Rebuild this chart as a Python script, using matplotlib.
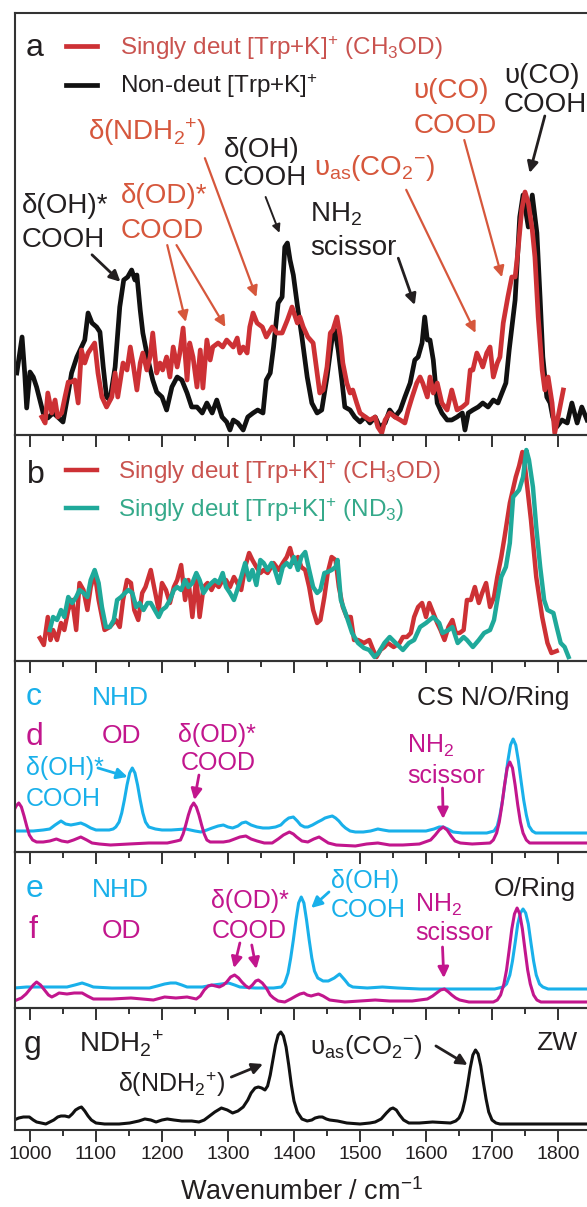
import matplotlib
matplotlib.use("Agg")
import matplotlib.pyplot as plt
from matplotlib.ticker import MultipleLocator

# ---------------- data (wavenumber / cm-1, intensity in arbitrary units) ----------------
# (a) experimental IRMPD spectra
a_black_wn = [980, 988, 992, 995, 1000, 1005, 1010, 1015, 1020, 1027,
              1035, 1042, 1050, 1058, 1063, 1071, 1078, 1083, 1088, 1094,
              1101, 1106, 1111, 1116, 1121, 1129, 1136, 1142, 1148, 1154,
              1159, 1162, 1167, 1171, 1179, 1186, 1192, 1200, 1207, 1215,
              1223, 1230, 1238, 1245, 1253, 1261, 1268, 1276, 1283, 1291,
              1298, 1303, 1308, 1315, 1323, 1330, 1338, 1345, 1353, 1358,
              1364, 1369, 1376, 1382, 1386, 1390, 1394, 1399, 1405, 1412,
              1420, 1427, 1435, 1442, 1450, 1458, 1462, 1467, 1473, 1477,
              1485, 1492, 1500, 1508, 1515, 1523, 1530, 1538, 1545, 1553,
              1561, 1568, 1576, 1583, 1588, 1594, 1598, 1602, 1606, 1611,
              1617, 1624, 1632, 1639, 1647, 1655, 1659, 1664, 1671, 1679,
              1686, 1694, 1702, 1709, 1715, 1721, 1726, 1735, 1742, 1747,
              1755, 1761, 1768, 1773, 1777, 1783, 1788, 1792, 1798, 1806,
              1814, 1821, 1829, 1836, 1844]
a_black = [0.62, 0.98, 0.62, 0.27, 0.63, 0.58, 0.48, 0.35, 0.22, 0.17,
           0.22, 0.18, 0.13, 0.42, 0.62, 0.78, 0.88, 0.95, 1.22, 1.12,
           1.08, 1.03, 0.68, 0.38, 0.35, 0.68, 1.28, 1.55, 1.58, 1.65,
           1.55, 1.60, 1.25, 1.02, 0.75, 0.55, 0.43, 0.38, 0.25, 0.48,
           0.58, 0.55, 0.42, 0.28, 0.28, 0.22, 0.32, 0.22, 0.35, 0.18,
           0.13, 0.05, 0.15, 0.12, 0.05, 0.18, 0.22, 0.25, 0.22, 0.55,
           0.62, 0.88, 1.32, 1.38, 1.88, 1.92, 1.75, 1.60, 1.30, 0.98,
           0.58, 0.32, 0.22, 0.25, 0.58, 0.98, 1.05, 0.85, 0.52, 0.28,
           0.25, 0.18, 0.13, 0.18, 0.12, 0.18, 0.08, 0.12, 0.25, 0.18,
           0.25, 0.38, 0.52, 0.75, 0.78, 0.92, 1.18, 0.95, 0.95, 0.75,
           0.32, 0.22, 0.15, 0.15, 0.18, 0.22, 0.05, 0.22, 0.25, 0.28,
           0.32, 0.28, 0.35, 0.32, 0.42, 0.52, 0.85, 1.35, 2.18, 2.40,
           2.08, 2.40, 2.02, 1.35, 0.78, 0.38, 0.32, 0.18, 0.08, 0.15,
           0.12, 0.32, 0.12, 0.28, 0.15]

a_red_wn = [1018, 1023, 1027, 1033, 1038, 1042, 1048, 1053, 1058, 1063,
            1068, 1073, 1078, 1083, 1088, 1094, 1098, 1103, 1109, 1116,
            1124, 1129, 1133, 1141, 1147, 1152, 1156, 1162, 1167, 1171,
            1177, 1182, 1186, 1192, 1197, 1201, 1207, 1212, 1217, 1223,
            1227, 1232, 1238, 1242, 1247, 1253, 1258, 1262, 1268, 1273,
            1277, 1285, 1292, 1298, 1308, 1314, 1318, 1323, 1329, 1333,
            1338, 1344, 1352, 1358, 1367, 1374, 1382, 1390, 1397, 1405,
            1409, 1414, 1421, 1429, 1435, 1439, 1444, 1450, 1455, 1459,
            1465, 1470, 1474, 1480, 1485, 1489, 1495, 1500, 1508, 1515,
            1523, 1527, 1533, 1538, 1545, 1553, 1561, 1568, 1573, 1579,
            1586, 1591, 1595, 1602, 1606, 1611, 1617, 1624, 1632, 1639,
            1647, 1655, 1662, 1667, 1671, 1677, 1682, 1686, 1692, 1697,
            1702, 1708, 1712, 1717, 1724, 1730, 1735, 1739, 1745, 1750,
            1755, 1761, 1765, 1770, 1776, 1780, 1785, 1791, 1795, 1800,
            1806, 1808]
a_red = [0.18, 0.12, 0.42, 0.22, 0.35, 0.18, 0.22, 0.38, 0.53, 0.53,
         0.55, 0.32, 0.85, 0.72, 0.82, 0.88, 0.92, 0.62, 0.38, 0.28,
         0.38, 0.62, 0.38, 0.72, 0.65, 0.88, 0.72, 0.45, 0.72, 0.82,
         0.65, 0.78, 1.02, 0.62, 0.72, 0.65, 0.78, 0.58, 0.88, 0.68,
         0.82, 1.07, 0.55, 0.92, 0.78, 0.48, 0.85, 0.47, 0.95, 0.75,
         0.88, 0.92, 0.88, 0.95, 0.88, 0.97, 0.82, 0.88, 0.82, 1.08,
         1.22, 1.12, 1.08, 0.98, 1.08, 1.02, 1.02, 1.15, 1.28, 1.12,
         1.18, 1.08, 0.98, 0.92, 0.62, 0.42, 0.45, 0.68, 1.02, 1.05,
         1.18, 0.98, 0.72, 0.52, 0.42, 0.45, 0.32, 0.22, 0.18, 0.15,
         0.18, 0.08, 0.02, 0.15, 0.22, 0.18, 0.15, 0.12, 0.25, 0.38,
         0.52, 0.58, 0.52, 0.38, 0.58, 0.42, 0.52, 0.32, 0.25, 0.45,
         0.25, 0.28, 0.32, 0.65, 0.65, 0.82, 0.75, 0.68, 0.82, 0.88,
         0.58, 0.72, 0.78, 1.12, 1.38, 1.58, 1.58, 1.82, 2.25, 2.43,
         2.32, 2.05, 1.78, 1.18, 0.65, 0.45, 0.58, 0.32, 0.02, 0.18,
         0.38, 0.45]

# (b) experimental spectra of the two singly deuterated species
b_red_wn = [1015, 1021, 1027, 1031, 1035, 1041, 1047, 1052, 1058, 1064,
            1070, 1075, 1081, 1087, 1092, 1098, 1104, 1113, 1121, 1130,
            1136, 1141, 1147, 1153, 1158, 1164, 1170, 1175, 1183, 1188,
            1195, 1200, 1206, 1212, 1218, 1223, 1229, 1235, 1240, 1246,
            1252, 1257, 1263, 1269, 1275, 1280, 1286, 1292, 1297, 1303,
            1309, 1314, 1320, 1326, 1332, 1337, 1343, 1349, 1354, 1360,
            1369, 1377, 1383, 1389, 1394, 1400, 1406, 1411, 1417, 1423,
            1429, 1435, 1440, 1446, 1451, 1457, 1463, 1468, 1474, 1480,
            1486, 1491, 1497, 1506, 1514, 1520, 1525, 1531, 1537, 1542,
            1551, 1560, 1565, 1571, 1577, 1582, 1588, 1594, 1600, 1605,
            1611, 1617, 1622, 1628, 1634, 1640, 1645, 1651, 1657, 1662,
            1668, 1674, 1680, 1685, 1691, 1697, 1703, 1708, 1714, 1719,
            1727, 1736, 1741, 1746, 1750, 1759, 1767, 1776, 1784, 1790,
            1798]
b_red = [0.23, 0.16, 0.44, 0.21, 0.31, 0.21, 0.38, 0.31, 0.51, 0.61,
         0.31, 0.78, 0.71, 0.51, 0.74, 0.88, 0.61, 0.31, 0.34, 0.41,
         0.34, 0.61, 0.81, 0.78, 0.51, 0.41, 0.68, 0.74, 0.91, 0.74,
         0.51, 0.78, 0.71, 0.58, 0.74, 0.81, 0.96, 0.61, 0.81, 0.44,
         0.84, 0.44, 0.74, 0.78, 0.71, 0.78, 0.74, 0.81, 0.81, 0.74,
         0.84, 0.78, 0.71, 0.94, 1.08, 1.01, 0.94, 0.88, 0.91, 0.88,
         0.98, 0.91, 0.98, 1.04, 1.13, 0.98, 1.04, 0.94, 0.91, 0.74,
         0.51, 0.38, 0.41, 0.64, 0.88, 1.04, 1.01, 0.74, 0.54, 0.44,
         0.44, 0.21, 0.21, 0.18, 0.21, 0.11, 0.04, 0.11, 0.14, 0.18,
         0.14, 0.18, 0.24, 0.24, 0.28, 0.44, 0.54, 0.58, 0.44, 0.58,
         0.48, 0.38, 0.31, 0.21, 0.34, 0.41, 0.28, 0.28, 0.31, 0.61,
         0.61, 0.74, 0.58, 0.68, 0.78, 0.54, 0.64, 0.84, 1.04, 1.24,
         1.58, 1.84, 1.95, 2.09, 1.94, 1.41, 0.84, 0.44, 0.18, 0.08,
         0.10]

b_teal_wn = [1030, 1035, 1041, 1047, 1052, 1058, 1064, 1070, 1075, 1081,
             1087, 1092, 1098, 1104, 1109, 1115, 1121, 1127, 1132, 1138,
             1144, 1149, 1155, 1161, 1166, 1172, 1178, 1183, 1189, 1195,
             1200, 1206, 1212, 1218, 1223, 1229, 1235, 1240, 1246, 1252,
             1257, 1263, 1269, 1275, 1280, 1286, 1292, 1297, 1303, 1309,
             1314, 1320, 1326, 1332, 1337, 1343, 1349, 1354, 1360, 1366,
             1371, 1377, 1383, 1389, 1394, 1400, 1406, 1411, 1417, 1423,
             1429, 1435, 1440, 1446, 1451, 1457, 1463, 1466, 1471, 1480,
             1488, 1497, 1506, 1514, 1522, 1528, 1537, 1545, 1554, 1565,
             1574, 1582, 1591, 1600, 1611, 1620, 1625, 1634, 1640, 1648,
             1657, 1662, 1671, 1680, 1688, 1697, 1703, 1708, 1714, 1721,
             1727, 1732, 1741, 1747, 1752, 1756, 1762, 1767, 1773, 1779,
             1784, 1793, 1798, 1804, 1810, 1816]
b_teal = [0.31, 0.44, 0.41, 0.51, 0.44, 0.64, 0.58, 0.64, 0.71, 0.68,
          0.64, 0.81, 0.91, 0.78, 0.54, 0.34, 0.34, 0.41, 0.61, 0.64,
          0.68, 0.71, 0.68, 0.54, 0.58, 0.51, 0.58, 0.58, 0.51, 0.44,
          0.51, 0.54, 0.61, 0.71, 0.74, 0.71, 0.81, 0.74, 0.78, 0.88,
          0.81, 0.68, 0.74, 0.78, 0.81, 0.78, 0.88, 0.74, 0.68, 0.61,
          0.71, 0.84, 0.98, 0.81, 0.91, 0.76, 1.01, 0.98, 0.91, 0.98,
          0.91, 0.78, 0.94, 0.98, 0.94, 1.04, 0.91, 1.04, 1.09, 0.91,
          0.74, 0.68, 0.71, 0.88, 0.89, 0.91, 0.94, 1.01, 0.61, 0.44,
          0.28, 0.18, 0.13, 0.11, 0.04, 0.08, 0.18, 0.24, 0.18, 0.11,
          0.18, 0.21, 0.34, 0.38, 0.44, 0.38, 0.28, 0.31, 0.34, 0.18,
          0.24, 0.21, 0.14, 0.21, 0.28, 0.31, 0.41, 0.61, 0.84, 0.94,
          1.18, 1.64, 1.71, 1.84, 2.11, 2.01, 1.74, 1.34, 0.94, 0.61,
          0.51, 0.48, 0.34, 0.18, 0.14, 0.04]

# (c) computed NHD, (d) computed OD  -- CS N/O/Ring
c_wn = [976, 990, 1005, 1020, 1030, 1038, 1047, 1054, 1062, 1070,
        1077, 1084, 1092, 1100, 1110, 1120, 1126, 1130, 1135, 1139,
        1143, 1147, 1151, 1155, 1159, 1163, 1167, 1171, 1175, 1180,
        1190, 1200, 1214, 1236, 1250, 1259, 1268, 1276, 1285, 1293,
        1300, 1307, 1315, 1321, 1327, 1335, 1344, 1353, 1362, 1372,
        1380, 1386, 1392, 1399, 1405, 1410, 1416, 1421, 1428, 1436,
        1442, 1447, 1452, 1458, 1463, 1468, 1473, 1478, 1485, 1493,
        1505, 1516, 1527, 1535, 1544, 1560, 1580, 1600, 1612, 1620,
        1626, 1633, 1641, 1655, 1669, 1692, 1703, 1708, 1712, 1716,
        1720, 1724, 1728, 1732, 1736, 1740, 1744, 1748, 1752, 1756,
        1761, 1766, 1790, 1820, 1850]
c_nhd = [0.21, 0.21, 0.21, 0.22, 0.23, 0.27, 0.31, 0.28, 0.27, 0.28,
         0.29, 0.27, 0.24, 0.22, 0.22, 0.22, 0.23, 0.25, 0.30, 0.39,
         0.52, 0.67, 0.79, 0.84, 0.79, 0.67, 0.52, 0.39, 0.30, 0.25,
         0.23, 0.22, 0.22, 0.23, 0.21, 0.20, 0.22, 0.24, 0.26, 0.27,
         0.25, 0.24, 0.26, 0.29, 0.30, 0.27, 0.25, 0.24, 0.24, 0.25,
         0.27, 0.31, 0.34, 0.35, 0.31, 0.27, 0.25, 0.25, 0.27, 0.30,
         0.32, 0.34, 0.35, 0.36, 0.34, 0.31, 0.27, 0.24, 0.21, 0.20,
         0.20, 0.21, 0.23, 0.22, 0.21, 0.21, 0.21, 0.21, 0.23, 0.25,
         0.25, 0.23, 0.20, 0.19, 0.19, 0.19, 0.21, 0.26, 0.37, 0.52,
         0.71, 0.91, 1.07, 1.13, 1.07, 0.91, 0.71, 0.52, 0.37, 0.26,
         0.21, 0.19, 0.19, 0.19, 0.19]

d_wn = [976, 979, 983, 987, 991, 995, 999, 1004, 1010, 1020,
        1030, 1040, 1048, 1057, 1066, 1077, 1086, 1094, 1105, 1122,
        1150, 1180, 1208, 1222, 1228, 1232, 1236, 1240, 1244, 1248,
        1252, 1256, 1260, 1264, 1268, 1273, 1283, 1293, 1302, 1310,
        1318, 1327, 1335, 1344, 1355, 1367, 1376, 1384, 1393, 1399,
        1404, 1412, 1421, 1430, 1438, 1445, 1452, 1464, 1493, 1510,
        1527, 1545, 1565, 1590, 1607, 1614, 1620, 1626, 1632, 1638,
        1644, 1652, 1670, 1697, 1702, 1707, 1711, 1715, 1719, 1723,
        1727, 1731, 1735, 1739, 1743, 1747, 1752, 1757, 1790, 1820,
        1850]
d_od = [0.42, 0.46, 0.49, 0.45, 0.36, 0.26, 0.17, 0.12, 0.10, 0.10,
        0.11, 0.13, 0.11, 0.10, 0.12, 0.15, 0.12, 0.09, 0.08, 0.07,
        0.08, 0.09, 0.09, 0.11, 0.12, 0.18, 0.27, 0.37, 0.45, 0.49,
        0.45, 0.37, 0.27, 0.18, 0.12, 0.10, 0.10, 0.10, 0.11, 0.13,
        0.15, 0.16, 0.13, 0.11, 0.09, 0.09, 0.13, 0.17, 0.20, 0.18,
        0.15, 0.11, 0.10, 0.13, 0.15, 0.12, 0.09, 0.07, 0.06, 0.08,
        0.09, 0.07, 0.07, 0.08, 0.12, 0.17, 0.22, 0.25, 0.22, 0.16,
        0.11, 0.09, 0.08, 0.09, 0.12, 0.19, 0.30, 0.47, 0.67, 0.84,
        0.90, 0.84, 0.67, 0.47, 0.30, 0.19, 0.12, 0.09, 0.09, 0.09,
        0.09]

# (e) computed NHD, (f) computed OD  -- O/Ring
e_wn = [976, 995, 1010, 1040, 1056, 1068, 1079, 1088, 1096, 1124,
        1160, 1181, 1193, 1204, 1213, 1221, 1230, 1238, 1261, 1278,
        1290, 1301, 1310, 1318, 1341, 1369, 1381, 1386, 1391, 1395,
        1399, 1403, 1407, 1411, 1415, 1419, 1423, 1427, 1431, 1436,
        1444, 1452, 1461, 1469, 1477, 1483, 1489, 1511, 1534, 1557,
        1591, 1625, 1665, 1704, 1717, 1722, 1727, 1731, 1735, 1739,
        1743, 1747, 1751, 1755, 1759, 1763, 1767, 1772, 1777, 1785,
        1850]
e_nhd = [0.20, 0.21, 0.21, 0.21, 0.21, 0.23, 0.25, 0.23, 0.21, 0.20,
         0.20, 0.20, 0.22, 0.24, 0.25, 0.25, 0.23, 0.21, 0.21, 0.23,
         0.24, 0.25, 0.23, 0.21, 0.20, 0.20, 0.21, 0.25, 0.35, 0.50,
         0.68, 0.88, 1.05, 1.11, 1.05, 0.88, 0.68, 0.50, 0.37, 0.30,
         0.27, 0.27, 0.30, 0.34, 0.28, 0.23, 0.21, 0.20, 0.21, 0.20,
         0.19, 0.19, 0.19, 0.19, 0.21, 0.24, 0.33, 0.47, 0.65, 0.84,
         0.95, 0.99, 0.95, 0.84, 0.65, 0.47, 0.33, 0.24, 0.21, 0.19,
         0.19]

f_wn = [976, 987, 994, 999, 1005, 1010, 1016, 1022, 1028, 1033,
        1039, 1044, 1056, 1067, 1079, 1087, 1096, 1124, 1153, 1187,
        1204, 1221, 1238, 1252, 1258, 1264, 1270, 1275, 1281, 1287,
        1293, 1298, 1304, 1310, 1316, 1321, 1327, 1332, 1337, 1342,
        1346, 1352, 1358, 1364, 1369, 1376, 1386, 1395, 1403, 1409,
        1415, 1420, 1426, 1431, 1437, 1444, 1454, 1477, 1500, 1523,
        1545, 1579, 1602, 1610, 1616, 1622, 1628, 1634, 1639, 1645,
        1651, 1665, 1690, 1702, 1708, 1713, 1718, 1722, 1726, 1730,
        1734, 1738, 1742, 1746, 1750, 1754, 1758, 1763, 1768, 1774,
        1850]
f_od = [0.07, 0.10, 0.14, 0.18, 0.23, 0.26, 0.23, 0.18, 0.13, 0.11,
        0.13, 0.15, 0.14, 0.15, 0.15, 0.12, 0.09, 0.09, 0.10, 0.08,
        0.11, 0.10, 0.11, 0.09, 0.12, 0.18, 0.22, 0.23, 0.22, 0.21,
        0.23, 0.26, 0.31, 0.33, 0.30, 0.26, 0.22, 0.20, 0.23, 0.27,
        0.28, 0.25, 0.20, 0.13, 0.10, 0.07, 0.06, 0.09, 0.12, 0.14,
        0.15, 0.13, 0.12, 0.13, 0.14, 0.12, 0.08, 0.06, 0.07, 0.08,
        0.07, 0.07, 0.09, 0.12, 0.15, 0.18, 0.19, 0.16, 0.13, 0.10,
        0.08, 0.06, 0.06, 0.06, 0.08, 0.13, 0.24, 0.38, 0.58, 0.79,
        0.94, 1.00, 0.94, 0.79, 0.58, 0.38, 0.24, 0.13, 0.08, 0.06,
        0.06]

# (g) computed zwitterion NDH2+
g_wn = [976, 983, 990, 999, 1005, 1010, 1017, 1024, 1030, 1036,
        1042, 1047, 1053, 1059, 1064, 1069, 1074, 1078, 1083, 1088,
        1093, 1100, 1113, 1135, 1151, 1165, 1174, 1183, 1191, 1200,
        1208, 1218, 1230, 1245, 1256, 1264, 1270, 1280, 1290, 1299,
        1307, 1315, 1323, 1330, 1335, 1341, 1346, 1351, 1356, 1360,
        1364, 1368, 1372, 1376, 1380, 1384, 1388, 1392, 1396, 1400,
        1405, 1412, 1420, 1427, 1432, 1438, 1443, 1449, 1454, 1466,
        1480, 1500, 1515, 1523, 1532, 1540, 1546, 1550, 1555, 1560,
        1566, 1574, 1590, 1610, 1637, 1645, 1650, 1655, 1659, 1663,
        1667, 1671, 1675, 1679, 1683, 1687, 1691, 1695, 1700, 1706,
        1712, 1850]
g_zw = [0.10, 0.12, 0.13, 0.13, 0.10, 0.08, 0.07, 0.06, 0.08, 0.10,
        0.13, 0.14, 0.14, 0.13, 0.16, 0.20, 0.22, 0.23, 0.19, 0.14,
        0.10, 0.07, 0.06, 0.06, 0.07, 0.09, 0.11, 0.10, 0.08, 0.10,
        0.11, 0.10, 0.09, 0.09, 0.08, 0.10, 0.13, 0.18, 0.22, 0.20,
        0.17, 0.19, 0.23, 0.30, 0.37, 0.42, 0.43, 0.42, 0.40, 0.44,
        0.55, 0.70, 0.85, 0.95, 0.98, 0.94, 0.83, 0.65, 0.45, 0.29,
        0.18, 0.11, 0.09, 0.10, 0.12, 0.13, 0.13, 0.11, 0.10, 0.09,
        0.07, 0.06, 0.07, 0.08, 0.11, 0.17, 0.21, 0.22, 0.20, 0.15,
        0.10, 0.07, 0.07, 0.08, 0.07, 0.09, 0.12, 0.19, 0.30, 0.45,
        0.62, 0.75, 0.80, 0.76, 0.64, 0.47, 0.31, 0.18, 0.10, 0.07,
        0.06, 0.06]

x_major_ticks = [1000, 1100, 1200, 1300, 1400, 1500, 1600, 1700, 1800]

# ---------------- style ----------------
plt.rcParams['font.family'] = ['Liberation Sans', 'DejaVu Sans']
plt.rcParams['mathtext.default'] = 'regular'

RED = '#cd3135'
REDTXT = '#c9534f'
ORANGE = '#d6573c'
TEAL = '#1fa99a'
TEALTXT = '#35a98a'
CYAN = '#19b0ea'
MAG = '#c2168d'
DARK = '#231f20'
SPINE = '#333333'

W, H = 587, 1207
fig = plt.figure(figsize=(W / 100, H / 100), dpi=100)

XMIN, XMAX = 977.3, 1863.6
AX_LEFT = 15 / W
AX_W = 585 / W


def make_ax(top_px, bot_px, ytop, labels=False):
    ax = fig.add_axes([AX_LEFT, (H - bot_px) / H, AX_W, (bot_px - top_px) / H])
    ax.set_xlim(XMIN, XMAX)
    ax.set_ylim(0, ytop)
    ax.set_yticks([])
    for s in ('left', 'top', 'bottom'):
        ax.spines[s].set_linewidth(1.5)
        ax.spines[s].set_color(SPINE)
    ax.spines['right'].set_visible(False)
    ax.xaxis.set_major_locator(MultipleLocator(100))
    ax.xaxis.set_minor_locator(MultipleLocator(50))
    ax.tick_params(axis='x', which='major', direction='out', length=8.5,
                   width=1.4, color=SPINE, labelbottom=labels,
                   labelsize=14, labelcolor=DARK, pad=3)
    ax.tick_params(axis='x', which='minor', direction='out', length=4.5,
                   width=1.4, color=SPINE)
    ax.patch.set_alpha(0)
    return ax


def txt(ax, x, y, s, color, size, ha='left'):
    ax.text(x, y, s, transform=ax.get_xaxis_transform(), color=color,
            fontsize=size, ha=ha, va='baseline')


def arrow(ax, tail, tip, color, lw=1.6, ms=16):
    tr = ax.get_xaxis_transform()
    ax.annotate('', xy=tip, xytext=tail, xycoords=tr, textcoords=tr,
                arrowprops=dict(arrowstyle='-|>', color=color, lw=lw,
                                mutation_scale=ms, shrinkA=0, shrinkB=0))


NDH2P = r'NDH$_{2}$$^{+}$'
CO2M = r'(CO$_{2}$$^{-}$)'

axa = make_ax(13, 435, 4.22)
axb = make_ax(435, 661, 2.26)
axc = make_ax(661, 852, 1.91)
axe = make_ax(852, 1008, 1.56)
axg = make_ax(1008, 1130, 1.22, labels=True)

# ---- panel a ----
axa.plot(a_black_wn, a_black, color='#111111', lw=3.4,
         label=r'Non-deut [Trp+K]$^{+}$', solid_joinstyle='round')
axa.plot(a_red_wn, a_red, color=RED, lw=3.4,
         label=r'Singly deut [Trp+K]$^{+}$ (CH$_3$OD)', solid_joinstyle='round')
h, l = axa.get_legend_handles_labels()
axa.legend([h[1], h[0]], [l[1], l[0]], loc='upper left',
           bbox_to_anchor=(0.0865, 0.950), frameon=False, fontsize=17.5,
           handlelength=1.3, handletextpad=0.95, labelspacing=0.42,
           borderpad=0, borderaxespad=0, labelcolor=[REDTXT, DARK])
txt(axa, 994, 0.898, 'a', DARK, 23)

FS_A = 20
txt(axa, 1718, 0.833, 'υ(CO)', DARK, FS_A)
txt(axa, 1718, 0.766, 'COOH', DARK, FS_A)
arrow(axa, (1780, 0.756), (1757, 0.621), DARK, lw=2)
txt(axa, 1581, 0.798, 'υ(CO)', ORANGE, FS_A)
txt(axa, 1581, 0.715, 'COOD', ORANGE, FS_A)
arrow(axa, (1658, 0.699), (1715, 0.374), ORANGE)
txt(axa, 1088, 0.699, 'δ(' + NDH2P + ')', ORANGE, FS_A)
arrow(axa, (1265, 0.656), (1343, 0.327), ORANGE)
txt(axa, 1293, 0.659, 'δ(OH)', DARK, FS_A)
txt(axa, 1293, 0.592, 'COOH', DARK, FS_A)
arrow(axa, (1357, 0.564), (1378, 0.479), DARK, lw=1.4, ms=12)
txt(axa, 1430, 0.616, r'υ$_{as}$' + CO2M, ORANGE, FS_A)
arrow(axa, (1570, 0.581), (1675, 0.242), ORANGE)
txt(axa, 1137, 0.550, 'δ(OD)*', ORANGE, FS_A)
txt(axa, 1137, 0.467, 'COOD', ORANGE, FS_A)
arrow(axa, (1208, 0.450), (1236, 0.268), ORANGE)
arrow(axa, (1222, 0.450), (1296, 0.256), ORANGE)
txt(axa, 987, 0.526, 'δ(OH)*', DARK, FS_A)
txt(axa, 987, 0.446, 'COOH', DARK, FS_A)
arrow(axa, (1094, 0.427), (1137, 0.363), DARK, lw=2)
txt(axa, 1424, 0.505, r'NH$_2$', DARK, FS_A)
txt(axa, 1424, 0.427, 'scissor', DARK, FS_A)
arrow(axa, (1558, 0.419), (1583, 0.308), DARK, lw=2)

# ---- panel b ----
axb.plot(b_red_wn, b_red, color=RED, lw=3.2,
         label=r'Singly deut [Trp+K]$^{+}$ (CH$_3$OD)', solid_joinstyle='round')
axb.plot(b_teal_wn, b_teal, color=TEAL, lw=3.2,
         label=r'Singly deut [Trp+K]$^{+}$ (ND$_3$)', solid_joinstyle='round')
axb.legend(loc='upper left', bbox_to_anchor=(0.0865, 0.900), frameon=False,
           fontsize=17.5, handlelength=1.3, handletextpad=0.85,
           labelspacing=0.42, borderpad=0, borderaxespad=0,
           labelcolor=[REDTXT, TEALTXT])
txt(axb, 996, 0.788, 'b', DARK, 23)

# ---- panel c/d ----
axc.plot(c_wn, c_nhd, color=CYAN, lw=2.2)
axc.plot(d_wn, d_od, color=MAG, lw=2.2)
txt(axc, 994, 0.770, 'c', CYAN, 23)
txt(axc, 1094, 0.770, 'NHD', CYAN, 19)
txt(axc, 1587, 0.770, 'CS N/O/Ring', DARK, 19)
txt(axc, 994, 0.560, 'd', MAG, 23)
txt(axc, 1108, 0.571, 'OD', MAG, 19)
txt(axc, 994, 0.403, 'δ(OH)*', CYAN, 18)
txt(axc, 994, 0.241, 'COOH', CYAN, 18)
arrow(axc, (1103, 0.440), (1148, 0.393), CYAN, lw=2)
txt(axc, 1225, 0.576, 'δ(OD)*', MAG, 18)
txt(axc, 1228, 0.429, 'COOD', MAG, 18)
arrow(axc, (1256, 0.403), (1249, 0.272), MAG, lw=2)
txt(axc, 1571, 0.518, r'NH$_2$', MAG, 18)
txt(axc, 1571, 0.361, 'scissor', MAG, 18)
arrow(axc, (1625, 0.335), (1626, 0.173), MAG, lw=2)

# ---- panel e/f ----
axe.plot(e_wn, e_nhd, color=CYAN, lw=2.2)
axe.plot(f_wn, f_od, color=MAG, lw=2.2)
txt(axe, 994, 0.712, 'e', CYAN, 23)
txt(axe, 1094, 0.712, 'NHD', CYAN, 19)
txt(axe, 1702, 0.718, 'O/Ring', DARK, 19)
txt(axe, 997, 0.449, 'f', MAG, 23)
txt(axe, 1108, 0.449, 'OD', MAG, 19)
txt(axe, 1275, 0.641, 'δ(OD)*', MAG, 18)
txt(axe, 1275, 0.449, 'COOD', MAG, 18)
arrow(axe, (1318, 0.417), (1309, 0.256), MAG, lw=2)
arrow(axe, (1336, 0.404), (1343, 0.250), MAG, lw=2)
txt(axe, 1456, 0.769, 'δ(OH)', CYAN, 18)
txt(axe, 1456, 0.583, 'COOH', CYAN, 18)
arrow(axe, (1453, 0.744), (1426, 0.641), CYAN, lw=2)
txt(axe, 1584, 0.615, r'NH$_2$', MAG, 18)
txt(axe, 1584, 0.436, 'scissor', MAG, 18)
arrow(axe, (1625, 0.391), (1627, 0.192), MAG, lw=2)

# ---- panel g ----
axg.plot(g_wn, g_zw, color='#111111', lw=2.2)
txt(axg, 991, 0.631, 'g', DARK, 23)
txt(axg, 1074, 0.639, NDH2P, DARK, 20)
txt(axg, 1767, 0.656, 'ZW', DARK, 19)
txt(axg, 1134, 0.311, 'δ(' + NDH2P + ')', DARK, 18)
arrow(axg, (1305, 0.434), (1353, 0.541), DARK, lw=2)
txt(axg, 1424, 0.620, r'υ$_{as}$' + CO2M, DARK, 18.5)
arrow(axg, (1615, 0.689), (1663, 0.533), DARK, lw=2)

axg.set_xticks(x_major_ticks)
axg.set_xticklabels([str(v) for v in x_major_ticks])
axg.set_xlabel(r'Wavenumber / cm$^{-1}$', fontsize=19.5, color=DARK, labelpad=11)
axg.xaxis.label.set_x(0.49)

fig.savefig('out.png', dpi=100)
